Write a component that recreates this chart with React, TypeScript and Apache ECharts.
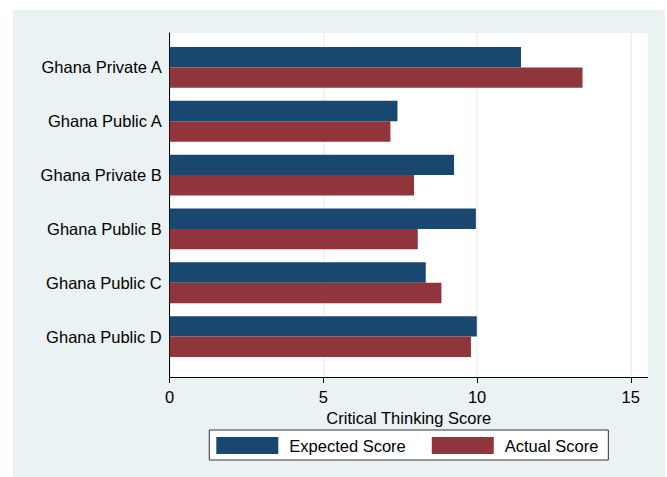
import React, { useEffect, useRef } from "react";
import * as echarts from "echarts";

const categories = [
  "Ghana Private A",
  "Ghana Public A",
  "Ghana Private B",
  "Ghana Public B",
  "Ghana Public C",
  "Ghana Public D",
];
const expectedScore = [11.43, 7.41, 9.25, 9.96, 8.33, 9.99];
const actualScore = [13.43, 7.18, 7.95, 8.07, 8.84, 9.8];
const xTicks = [0, 5, 10, 15];

const FONT = "'Liberation Sans', Arial, sans-serif";
const BG = "#EAF2F3";
const NAVY = "#1a476f";
const MAROON = "#90353b";
const XMAX = 15.55;

export default function App() {
  const ref = useRef<HTMLDivElement>(null);
  useEffect(() => {
    if (!ref.current) return;
    const chart = echarts.init(ref.current, undefined, { renderer: "svg" });
    chart.setOption({
      animation: false,
      backgroundColor: BG,
      textStyle: { fontFamily: FONT },
      grid: [
        { left: 156.7, right: 17.3, top: 23, bottom: 100, show: true, backgroundColor: "#ffffff", borderWidth: 0 },
        { left: 156.7, right: 17.3, top: 30.5, bottom: 113.5 },
      ],
      xAxis: [
        {
          type: "value",
          gridIndex: 0,
          min: 0,
          max: XMAX,
          interval: 5,
          name: "Critical Thinking Score",
          nameLocation: "middle",
          nameGap: 27,
          nameTextStyle: { fontSize: 16.5, color: "#000", fontFamily: FONT },
          axisLine: { show: true, lineStyle: { color: "#000", width: 1 } },
          axisTick: { show: true, length: 6, customValues: xTicks, lineStyle: { color: "#000" } },
          axisLabel: {
            fontSize: 16.5,
            color: "#000",
            margin: 11,
            fontFamily: FONT,
            customValues: xTicks,
            formatter: (v: number) => (xTicks.includes(v) ? String(v) : ""),
          },
          splitLine: { show: true, lineStyle: { color: BG, width: 1.5 } },
        },
        { type: "value", gridIndex: 1, min: 0, max: XMAX, show: false },
      ],
      yAxis: [
        {
          type: "value",
          gridIndex: 0,
          min: 0,
          max: 1,
          axisLine: { show: true, onZero: false, lineStyle: { color: "#000", width: 1 } },
          axisTick: { show: false },
          axisLabel: { show: false },
          splitLine: { show: false },
        },
        {
          type: "category",
          gridIndex: 1,
          data: categories,
          inverse: true,
          axisLine: { show: false },
          axisTick: { show: false },
          axisLabel: { fontSize: 16.5, color: "#000", margin: 8, fontFamily: FONT },
        },
      ],
      legend: {
        left: 196.3,
        top: 420,
        orient: "horizontal",
        backgroundColor: "#ffffff",
        borderColor: "#333",
        borderWidth: 1,
        padding: [7, 10, 6, 7],
        itemWidth: 62,
        itemHeight: 17,
        itemGap: 26,
        icon: "rect",
        textStyle: { fontSize: 16.5, color: "#000", fontFamily: FONT, padding: [0, 0, 0, 6] },
        data: ["Expected Score", "Actual Score"],
      },
      series: [
        {
          name: "Expected Score",
          type: "bar",
          xAxisIndex: 1,
          yAxisIndex: 1,
          data: expectedScore,
          barWidth: 20.4,
          barGap: "0%",
          barCategoryGap: "24%",
          itemStyle: { color: NAVY },
        },
        {
          name: "Actual Score",
          type: "bar",
          xAxisIndex: 1,
          yAxisIndex: 1,
          data: actualScore,
          barWidth: 20.4,
          barGap: "0%",
          itemStyle: { color: MAROON },
        },
      ],
    });
    return () => chart.dispose();
  }, []);
  return (
    <div style={{ position: "fixed", left: 0, top: 0, width: 667, height: 477, background: "#fff" }}>
      <div ref={ref} style={{ position: "absolute", left: 13, top: 10, width: 652, height: 467 }} />
    </div>
  );
}
